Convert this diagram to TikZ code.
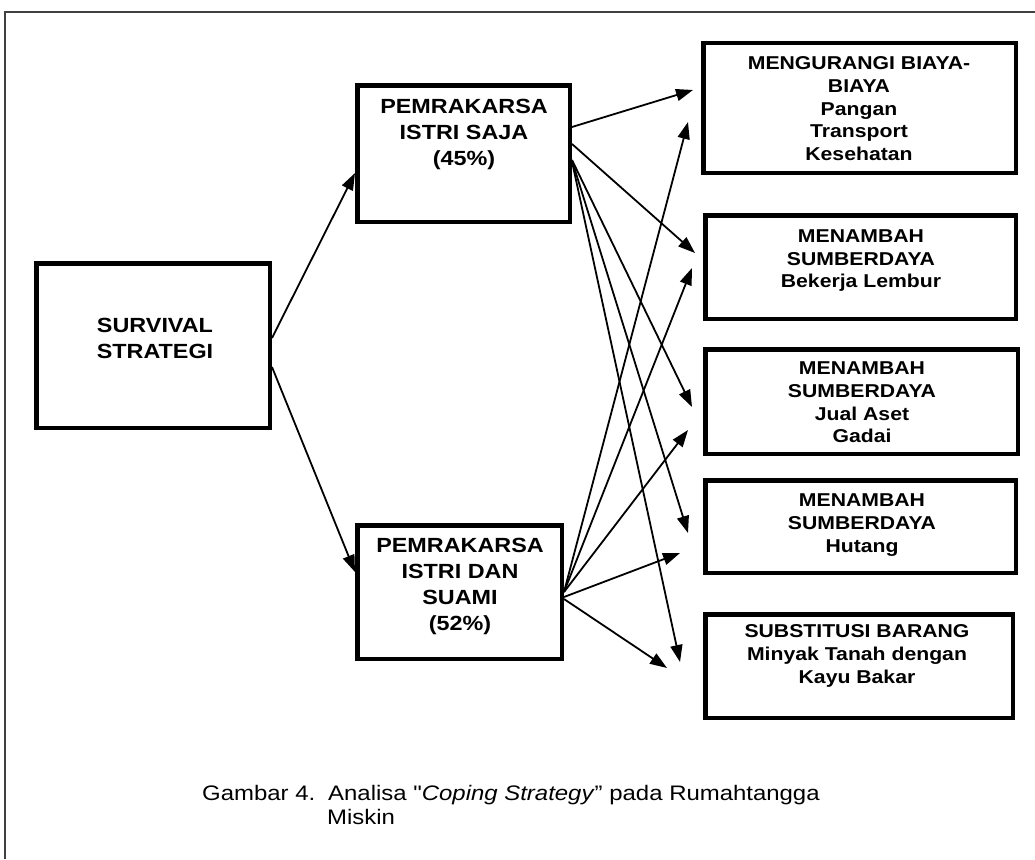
\documentclass[tikz,border=0pt]{standalone}
\usepackage{fontspec}
\setmainfont{Liberation Sans}[FakeStretch=1.14,Ligatures=TeXOff]
\usetikzlibrary{arrows.meta,calc}
\tikzset{
  x=1pt,y=-1pt,
  box/.style={draw=black,line width=4.5pt,rectangle,inner sep=0pt,fill=none},
  bigtxt/.style={anchor=north,align=center,inner sep=0pt,font=\bfseries\fontsize{20.5}{26}\selectfont},
  smalltxt/.style={anchor=north,align=center,inner sep=0pt,font=\bfseries\fontsize{18.6}{22.7}\selectfont},
  captxt/.style={anchor=base west,inner sep=0pt,font=\fontsize{21}{25}\selectfont},
  conn/.style={line width=1.8pt,-{Triangle[length=17pt,width=12pt]}},
  frame/.style={line width=1.5pt,draw=black!75}
}
\begin{document}
\begin{tikzpicture}
\useasboundingbox (0,0) rectangle (1035,859);
\fill[white] (0,0) rectangle (1035,859);
\draw[frame] (5,859) -- (5,12) -- (1035,12);

% boxes
\node[box,minimum width=233.5pt,minimum height=164.5pt] (surv) at (153,345.5) {};
\node[box,minimum width=212.5pt,minimum height=136.5pt] (ist) at (463.5,153.5) {};
\node[box,minimum width=204.5pt,minimum height=133.5pt] (sua) at (459.5,592) {};
\node[box,minimum width=312.5pt,minimum height=129.5pt] (r1) at (859.5,108) {};
\node[box,minimum width=310.5pt,minimum height=103.5pt] (r2) at (860.5,267) {};
\node[box,minimum width=312.5pt,minimum height=104.5pt] (r3) at (861.5,401.5) {};
\node[box,minimum width=310.5pt,minimum height=92.5pt] (r4) at (860.5,526.5) {};
\node[box,minimum width=307.5pt,minimum height=103.5pt] (r5) at (859,666) {};

% texts
\node[bigtxt] (tsurv) at (155,318.2) {SURVIVAL\\STRATEGI};
\node[bigtxt] (tist) at (464,99.2) {PEMRAKARSA\\ISTRI SAJA\\(45\%)};
\node[bigtxt] (tsua) at (460,538.2) {PEMRAKARSA\\ISTRI DAN\\SUAMI\\(52\%)};
\node[smalltxt] (tr1) at (859,56.6) {MENGURANGI BIAYA-\\BIAYA\\Pangan\\Transport\\Kesehatan};
\node[smalltxt] (tr2) at (861,229.6) {MENAMBAH\\SUMBERDAYA\\Bekerja Lembur};
\node[smalltxt] (tr3) at (862,361.6) {MENAMBAH\\SUMBERDAYA\\Jual Aset\\Gadai};
\node[smalltxt] (tr4) at (862,493.6) {MENAMBAH\\SUMBERDAYA\\Hutang};
\node[smalltxt] (tr5) at (857,624.6) {SUBSTITUSI BARANG\\Minyak Tanah dengan\\Kayu Bakar};

% connectors
\draw[conn] ($(surv.east)+(0,-7.5)$) -- ($(ist.west)+(0,19.5)$);
\draw[conn] ($(surv.east)+(0,21.5)$) -- ($(sua.west)+(0,-20)$);

\draw[conn] ($(ist.east)+(0,-26.5)$) -- ($(r1.west)+(-8,-18)$);
\draw[conn] ($(ist.east)+(0,-9.5)$) -- ($(r2.west)+(-8,-14)$);
\draw[conn] ($(ist.east)+(0,6.5)$) -- ($(r3.west)+(-11,5.5)$);
\draw[conn] ($(ist.east)+(0,7)$) -- ($(r4.west)+(-15,6.5)$);
\draw[conn] ($(ist.east)+(0,8)$) -- ($(r5.west)+(-23,-4)$);

\draw[conn] (sua.east) -- ($(r1.west)+(-13,14)$);
\draw[conn] (sua.east) -- ($(r2.west)+(-11,1)$);
\draw[conn] (sua.east) -- ($(r3.west)+(-15,28.5)$);
\draw[conn] ($(sua.east)+(0,5)$) -- ($(r4.west)+(-23,26.5)$);
\draw[conn] ($(sua.east)+(0,7)$) -- ($(r5.west)+(-36,2)$);

% caption
\node[captxt] (cap1) at (202,800) {Gambar 4.};
\node[captxt] (cap2) at (328,800) {Analisa "\textit{Coping Strategy}” pada Rumahtangga};
\node[captxt] (cap3) at (327,824) {Miskin};
\end{tikzpicture}
\end{document}
